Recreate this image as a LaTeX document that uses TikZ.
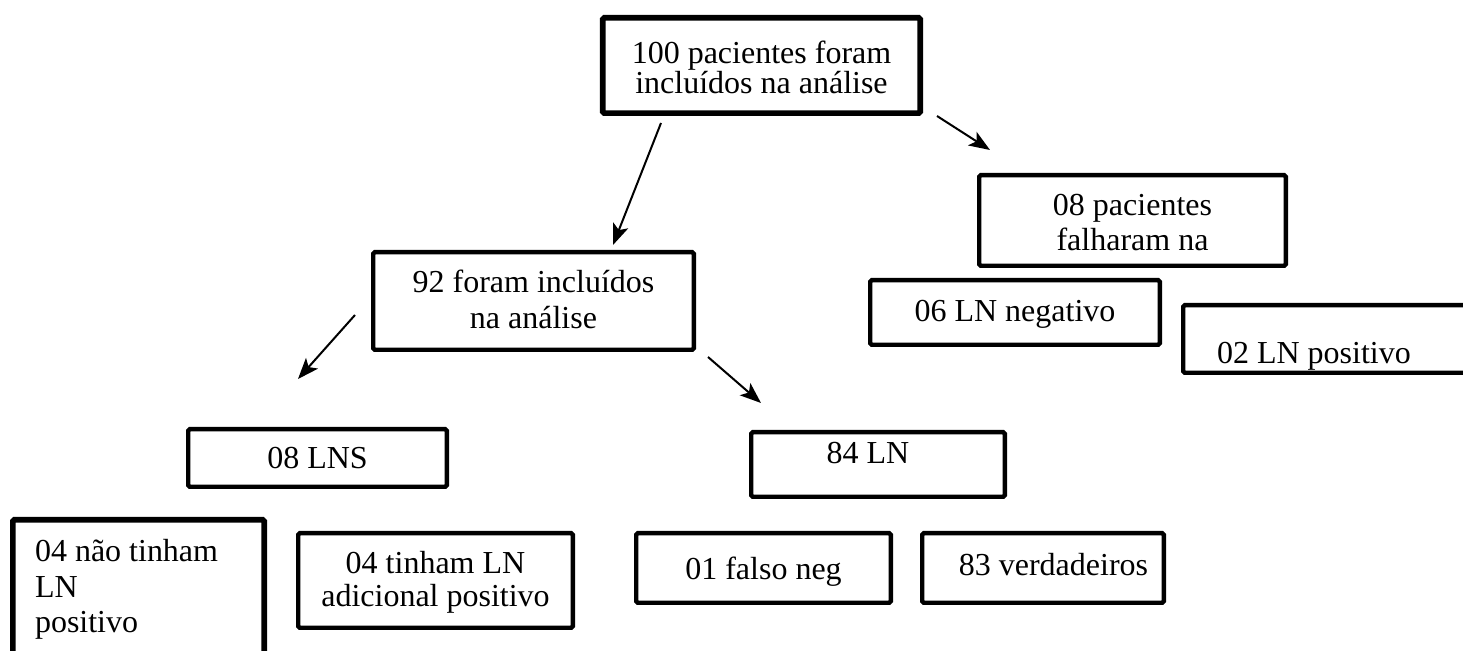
\documentclass[tikz,border=0pt]{standalone}
\usepackage{fontspec}
\setmainfont{Liberation Serif}
\usetikzlibrary{arrows.meta}
\newcommand\stkc[2]{\vtop{\baselineskip=#1\relax\lineskiplimit=-100pt\relax\halign{\hfil##\hfil\cr#2\crcr}}}
\newcommand\stkl[2]{\vtop{\baselineskip=#1\relax\lineskiplimit=-100pt\relax\halign{##\hfil\cr#2\crcr}}}
\tikzset{
  bx/.style={draw, line width=2.2pt, inner sep=0pt, rounded corners=0.8pt,
    font=\fontsize{16pt}{18pt}\selectfont},
  thick box/.style={line width=2.8pt},
  arr/.style={line width=1pt, -{Stealth[length=10.5pt,width=8pt,inset=2.5pt]}}
}
\begin{document}
\begin{tikzpicture}[x=0.5pt,y=-0.5pt]
\path[use as bounding box, clip] (0,0) rectangle (1463,651);
% boxes
\node[bx, thick box, minimum width=158.75pt, text height=23.1pt, text depth=24.6pt]
  (b100) at (761.5,65.5) {\stkc{15pt}{100 pacientes foram\cr incluídos na análise}};
\node[bx, minimum width=160.3pt, text height=20.25pt, text depth=28.55pt]
  (b92) at (533.5,301) {\stkc{18pt}{92 foram incluídos\cr na análise}};
\node[bx, minimum width=153.3pt, text height=20.4pt, text depth=24.9pt]
  (b08p) at (1132.5,220.5) {\stkc{17.5pt}{08 pacientes\cr falharam na}};
\node[bx, minimum width=144.8pt, text height=20.75pt, text depth=11.55pt]
  (b06) at (1015,312.5) {06 LN negativo};
\node[bx, inner xsep=16.9pt, text height=29.4pt, text depth=4.4pt]
  (b02) at (1336.6,339) {\makebox[119.6pt][l]{02 LN positivo}};
\node[bx, minimum width=129.3pt, text height=19.55pt, text depth=9.25pt]
  (blns) at (317.5,458) {08 LNS};
\node[bx, thick box, inner xsep=11.1pt, text height=20.95pt, text depth=69.15pt]
  (bnao) at (138.5,609.9) {\makebox[103.5pt][l]{\stkl{17.8pt}{04 não tinham\cr LN\cr positivo}}};
\node[bx, minimum width=137.3pt, text height=20.4pt, text depth=26.9pt]
  (btin) at (435.5,580.5) {\stkc{16.5pt}{04 tinham LN\cr adicional positivo}};
\node[bx, minimum width=126.8pt, text height=15.55pt, text depth=16.75pt]
  (b84) at (878,464.5) {84 LN\hspace*{10pt}};
\node[bx, minimum width=127.3pt, text height=23.4pt, text depth=11.4pt]
  (bfal) at (763.5,568) {01 falso neg};
\node[bx, minimum width=120.8pt, text height=21.25pt, text depth=13.55pt]
  (bver) at (1043,568) {\hspace*{10.5pt}83 verdadeiros};
% arrow ends
\coordinate (a1s) at (661,123);  \coordinate (a1e) at (613,245);
\coordinate (a2s) at (937,116);  \coordinate (a2e) at (990,150);
\coordinate (a3s) at (355,315);  \coordinate (a3e) at (298,379);
\coordinate (a4s) at (708,357);  \coordinate (a4e) at (761,403);
\draw[arr] (a1s) -- (a1e);
\draw[arr] (a2s) -- (a2e);
\draw[arr] (a3s) -- (a3e);
\draw[arr] (a4s) -- (a4e);
\end{tikzpicture}
\end{document}
